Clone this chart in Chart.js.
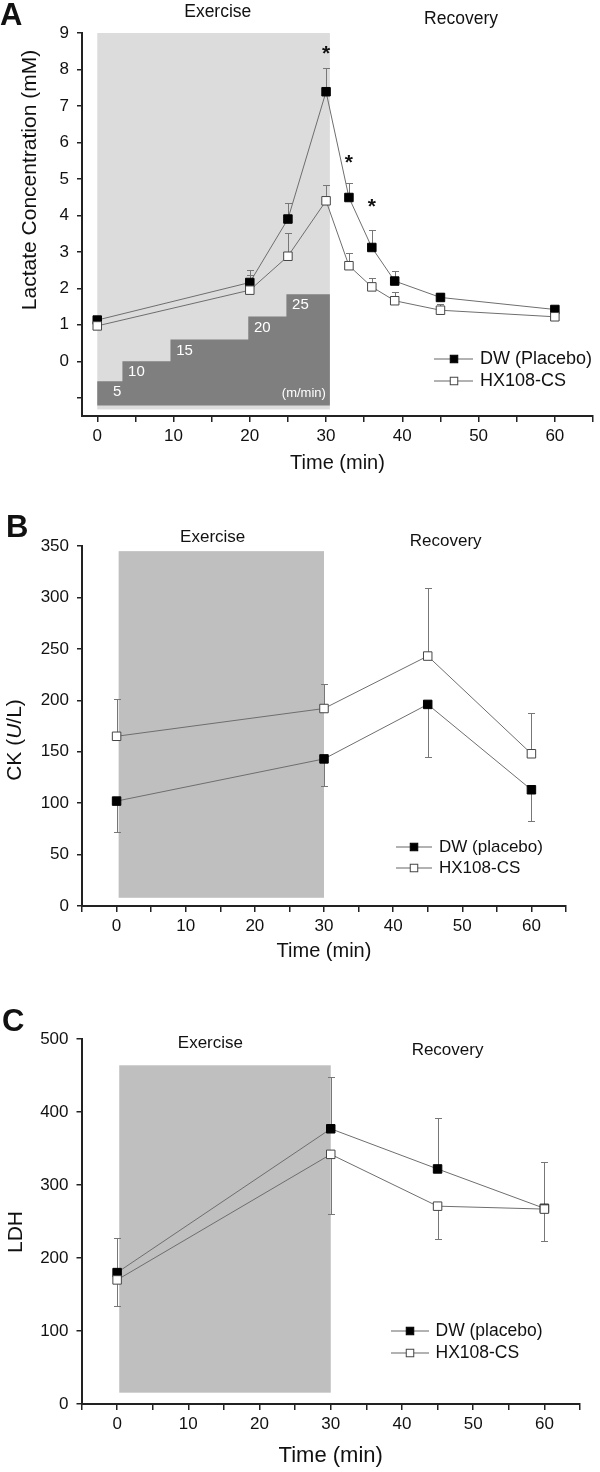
<!DOCTYPE html>
<html>
<head>
<meta charset="utf-8">
<script src="https://cdn.jsdelivr.net/npm/chart.js@4/dist/chart.umd.min.js"></script>
<style>
  body { margin: 0; background: #fff; width: 600px; height: 1472px; position: relative; overflow: hidden; }
  .panel { position: absolute; left: 0; width: 600px; }
</style>
</head>
<body>
<div class="panel" style="top:0;height:490px"><canvas id="chartA"></canvas></div>
<div class="panel" style="top:490px;height:490px"><canvas id="chartB"></canvas></div>
<div class="panel" style="top:980px;height:492px"><canvas id="chartC"></canvas></div>
<script>
// ---- panel A : lactate ----
var lactateTimes = [0, 20, 25, 30, 33, 36, 39, 45, 60];
var lactateDW    = [1.13, 2.16, 3.90, 7.39, 4.49, 3.12, 2.20, 1.75, 1.42];
var lactateDWsd  = [0.05, 0.34, 0.44, 0.64, 0.39, 0.49, 0.27, 0.11, 0.06];
var lactateHX    = [0.97, 1.95, 2.88, 4.40, 2.62, 2.04, 1.66, 1.40, 1.22];
var lactateHXsd  = [0.04, 0.41, 0.65, 0.43, 0.36, 0.25, 0.24, 0.16, 0.06];
var starTimes  = [30, 33, 36];
var starLevels = [8.6, 5.6, 4.4];
// treadmill speed steps (m/min)
var speedLabels = ['5', '10', '15', '20', '25'];
var stepFrom = [0, 3.3, 9.6, 19.8, 24.8];
var stepTo   = [3.3, 9.6, 19.8, 24.8, 30.5];
var stepTop  = [-0.55, 0, 0.6, 1.23, 1.84];
var stepBase = -1.21;

// ---- panels B and C ----
var enzymeTimes = [0, 30, 45, 60];
var ckDW   = [102, 143, 196, 113];
var ckDWsd = [30, 26, 51, 30];
var ckHX   = [165, 192, 243, 148];
var ckHXsd = [36, 24, 66, 40];
var ldhDW   = [180, 377, 322, 268];
var ldhDWsd = [47, 71, 70, 64];
var ldhHX   = [170, 342, 271, 267];
var ldhHXsd = [36, 82, 45, 44];

// tick positions (labels only on multiples of 10 for time)
var timeTicksA  = [0, 5, 10, 15, 20, 25, 30, 35, 40, 45, 50, 55, 60, 65];
var timeTicksBC = [-5, 0, 5, 10, 15, 20, 25, 30, 35, 40, 45, 50, 55, 60, 65];
var lactateTicks = [-1, 0, 1, 2, 3, 4, 5, 6, 7, 8, 9];
var ckTicks  = [0, 50, 100, 150, 200, 250, 300, 350];
var ldhTicks = [0, 100, 200, 300, 400, 500];

var FONT = "'Liberation Sans', Arial, Helvetica, sans-serif";
Chart.defaults.font.family = FONT;
Chart.defaults.color = '#111';

function series(times, values) {
  return times.map(function (t, i) { return { x: t, y: values[i] }; });
}

function dataset(label, times, values, sd, dir, filled) {
  return {
    label: label,
    data: series(times, values),
    sd: sd, errDir: dir,
    borderColor: '#6e6e6e', borderWidth: 1, tension: 0, fill: false,
    pointStyle: 'rect', pointRadius: 6, pointHoverRadius: 6,
    pointBackgroundColor: filled ? '#000' : '#fff',
    pointBorderColor: filled ? '#000' : '#444',
    pointBorderWidth: 1,
    order: filled ? 1 : 0   // open squares drawn on top
  };
}

function axes(p) {
  return {
    x: {
      type: 'linear', min: p.xMin, max: 65,
      afterBuildTicks: function (s) { s.ticks = p.xTicks.map(function (v) { return { value: v }; }); },
      afterFit: function (s) { s.height = p.xHeight; },
      grid: { drawOnChartArea: false, tickLength: 6, color: '#222', lineWidth: 1.5 },
      border: { color: '#222', width: 2 },
      ticks: {
        autoSkip: false, maxRotation: 0, padding: 4, font: { size: 17 }, color: '#111',
        callback: function (v) { return v % 10 === 0 ? String(v) : ''; }
      }
    },
    y: {
      min: p.yMin, max: p.yMax,
      afterBuildTicks: function (s) { s.ticks = p.yTicks.map(function (v) { return { value: v }; }); },
      afterFit: function (s) { s.width = p.yWidth; },
      grid: { drawOnChartArea: false, tickLength: 5, color: '#222', lineWidth: 1.5 },
      border: { color: '#222', width: 2 },
      ticks: {
        autoSkip: false, padding: 8, font: { size: 17 }, color: '#111',
        callback: function (v) { return v < 0 ? '' : String(v); }
      }
    }
  };
}

function drawRotated(ctx, parts, cx, cy, size) {
  ctx.save();
  ctx.translate(cx, cy);
  ctx.rotate(-Math.PI / 2);
  ctx.textBaseline = 'middle';
  ctx.textAlign = 'left';
  var total = 0;
  parts.forEach(function (pt) {
    ctx.font = pt.style + size + 'px ' + FONT;
    total += ctx.measureText(pt.text).width;
  });
  var x = -total / 2;
  parts.forEach(function (pt) {
    ctx.font = pt.style + size + 'px ' + FONT;
    ctx.fillText(pt.text, x, 0);
    x += ctx.measureText(pt.text).width;
  });
  ctx.restore();
}

function panelPlugin(cfg) {
  return {
    id: 'panel' + cfg.letter,
    beforeDatasetsDraw: function (chart) {
      var ctx = chart.ctx, xs = chart.scales.x, ys = chart.scales.y;
      ctx.save();
      // exercise period shading
      var sx0 = xs.getPixelForValue(cfg.shadeX[0]), sx1 = xs.getPixelForValue(cfg.shadeX[1]);
      var sy0 = ys.getPixelForValue(cfg.shadeY[1]), sy1 = ys.getPixelForValue(cfg.shadeY[0]);
      ctx.fillStyle = cfg.shade;
      ctx.fillRect(sx0, sy0, sx1 - sx0, sy1 - sy0);

      if (cfg.steps) {
        ctx.fillStyle = '#7f7f7f';
        ctx.beginPath();
        ctx.moveTo(xs.getPixelForValue(stepFrom[0]), ys.getPixelForValue(stepBase));
        for (var i = 0; i < stepFrom.length; i++) {
          ctx.lineTo(xs.getPixelForValue(stepFrom[i]), ys.getPixelForValue(stepTop[i]));
          ctx.lineTo(xs.getPixelForValue(stepTo[i]), ys.getPixelForValue(stepTop[i]));
        }
        ctx.lineTo(xs.getPixelForValue(stepTo[stepTo.length - 1]), ys.getPixelForValue(stepBase));
        ctx.closePath();
        ctx.fill();
        ctx.fillStyle = '#fff';
        ctx.font = '15px ' + FONT;
        ctx.textAlign = 'center';
        ctx.textBaseline = 'middle';
        for (var k = 0; k < speedLabels.length; k++) {
          var lx = xs.getPixelForValue(stepFrom[k]) + (k === 0 ? 20 : 14);
          ctx.fillText(speedLabels[k], lx, ys.getPixelForValue(stepTop[k]) + 11);
        }
        ctx.font = '13px ' + FONT;
        ctx.textAlign = 'right';
        ctx.fillText('(m/min)', xs.getPixelForValue(stepTo[4]) - 4, ys.getPixelForValue(stepBase) - 12);
      }

      // error bars (one-sided)
      ctx.strokeStyle = '#777';
      ctx.lineWidth = 1;
      chart.data.datasets.forEach(function (ds) {
        ds.data.forEach(function (p, j) {
          var end = ds.errDir === 'down' ? p.y - ds.sd[j] : p.y + ds.sd[j];
          var px = Math.round(xs.getPixelForValue(p.x)) + 0.5;
          var py0 = ys.getPixelForValue(p.y), py1 = Math.round(ys.getPixelForValue(end)) + 0.5;
          ctx.beginPath();
          ctx.moveTo(px, py0); ctx.lineTo(px, py1);
          ctx.moveTo(px - 3.5, py1); ctx.lineTo(px + 3.5, py1);
          ctx.stroke();
        });
      });
      ctx.restore();
    },
    afterDraw: function (chart) {
      var ctx = chart.ctx, xs = chart.scales.x, ys = chart.scales.y, area = chart.chartArea;
      ctx.save();
      ctx.fillStyle = '#111';

      // panel letter
      ctx.font = 'bold 31px ' + FONT;
      ctx.textAlign = 'left';
      ctx.textBaseline = 'alphabetic';
      ctx.fillText(cfg.letter, cfg.letterX, cfg.letterY);

      // phase labels
      ctx.font = cfg.phaseSize + 'px ' + FONT;
      ctx.textAlign = 'center';
      ctx.textBaseline = 'middle';
      cfg.phases.forEach(function (ph) {
        ctx.fillText(ph.text, xs.getPixelForValue(ph.at), ph.y);
      });

      // axis titles
      ctx.font = cfg.xTitleSize + 'px ' + FONT;
      ctx.fillText('Time (min)', (area.left + area.right) / 2, cfg.xTitleY);
      drawRotated(ctx, cfg.yTitle, cfg.yTitleX, cfg.yTitleY, cfg.yTitleSize);

      // significance marks
      if (cfg.stars) {
        ctx.font = 'bold 21px ' + FONT;
        ctx.textBaseline = 'alphabetic';
        for (var s = 0; s < starTimes.length; s++) {
          ctx.fillText('*', xs.getPixelForValue(starTimes[s]), ys.getPixelForValue(starLevels[s]) + 12);
        }
      }

      // legend
      var lg = cfg.legend;
      chart.data.datasets.forEach(function (ds, i) {
        var ly = lg.y + i * lg.gap;
        ctx.strokeStyle = '#999';
        ctx.lineWidth = 1.5;
        ctx.beginPath();
        ctx.moveTo(lg.x0, ly); ctx.lineTo(lg.x1, ly);
        ctx.stroke();
        ctx.fillStyle = ds.pointBackgroundColor;
        ctx.fillRect(lg.xm - 3.75, ly - 3.75, 7.5, 7.5);
        ctx.strokeStyle = ds.pointBorderColor;
        ctx.lineWidth = 1;
        ctx.strokeRect(lg.xm - 3.75, ly - 3.75, 7.5, 7.5);
        ctx.fillStyle = '#111';
        ctx.font = lg.size + 'px ' + FONT;
        ctx.textAlign = 'left';
        ctx.textBaseline = 'middle';
        ctx.fillText(ds.label, lg.xt, ly);
      });
      ctx.restore();
    }
  };
}

function makeChart(id, datasets, axisOpts, padding, cfg) {
  return new Chart(document.getElementById(id), {
    type: 'line',
    data: { datasets: datasets },
    options: {
      responsive: true, maintainAspectRatio: false, animation: false,
      layout: { padding: padding },
      plugins: { legend: { display: false }, tooltip: { enabled: false } },
      scales: axes(axisOpts)
    },
    plugins: [panelPlugin(cfg)]
  });
}

makeChart('chartA', [
    dataset('DW (Placebo)', lactateTimes, lactateDW, lactateDWsd, 'up', true),
    dataset('HX108-CS', lactateTimes, lactateHX, lactateHXsd, 'up', false)
  ],
  { xMin: -2, xTicks: timeTicksA, yMin: -1.5, yMax: 9, yTicks: lactateTicks, yWidth: 82, xHeight: 74 },
  { top: 33, right: 3, left: 0, bottom: 0 },
  {
    letter: 'A', letterX: 0, letterY: 25,
    shade: '#dcdcdc', shadeX: [0, 30.5], shadeY: [-1.32, 9], steps: true, stars: true,
    phases: [{ text: 'Exercise', at: 15.8, y: 12 }, { text: 'Recovery', at: 47.7, y: 19 }], phaseSize: 17.5,
    xTitleY: 463, xTitleSize: 20,
    yTitle: [{ text: 'Lactate Concentration (mM)', style: '' }], yTitleX: 30, yTitleY: 180, yTitleSize: 21,
    legend: { x0: 434, xm: 454, x1: 473, xt: 480, y: 359, gap: 22, size: 18 }
  });

makeChart('chartB', [
    dataset('DW (placebo)', enzymeTimes, ckDW, ckDWsd, 'down', true),
    dataset('HX108-CS', enzymeTimes, ckHX, ckHXsd, 'up', false)
  ],
  { xMin: -5, xTicks: timeTicksBC, yMin: 0, yMax: 350, yTicks: ckTicks, yWidth: 82, xHeight: 74 },
  { top: 56, right: 34, left: 0, bottom: 0 },
  {
    letter: 'B', letterX: 6, letterY: 47,
    shade: '#bfbfbf', shadeX: [0.3, 30], shadeY: [8, 345], steps: false, stars: false,
    phases: [{ text: 'Exercise', at: 13.9, y: 47 }, { text: 'Recovery', at: 47.6, y: 51.5 }], phaseSize: 17,
    xTitleY: 461, xTitleSize: 20,
    yTitle: [{ text: 'CK (', style: '' }, { text: 'U', style: 'italic ' }, { text: '/L)', style: '' }],
    yTitleX: 15, yTitleY: 250, yTitleSize: 21,
    legend: { x0: 396, xm: 414, x1: 432, xt: 439, y: 357, gap: 21, size: 17 }
  });

makeChart('chartC', [
    dataset('DW (placebo)', enzymeTimes, ldhDW, ldhDWsd, 'up', true),
    dataset('HX108-CS', enzymeTimes, ldhHX, ldhHXsd, 'down', false)
  ],
  { xMin: -5, xTicks: timeTicksBC, yMin: 0, yMax: 500, yTicks: ldhTicks, yWidth: 81.5, xHeight: 68 },
  { top: 59, right: 20, left: 0, bottom: 0 },
  {
    letter: 'C', letterX: 2, letterY: 51,
    shade: '#bfbfbf', shadeX: [0.3, 30], shadeY: [15.5, 464], steps: false, stars: false,
    phases: [{ text: 'Exercise', at: 13.1, y: 63 }, { text: 'Recovery', at: 46.4, y: 70 }], phaseSize: 17,
    xTitleY: 476, xTitleSize: 22,
    yTitle: [{ text: 'LDH', style: '' }], yTitleX: 16, yTitleY: 252, yTitleSize: 21,
    legend: { x0: 391, xm: 410, x1: 429, xt: 435.5, y: 351, gap: 22, size: 17.5 }
  });
</script>
</body>
</html>
